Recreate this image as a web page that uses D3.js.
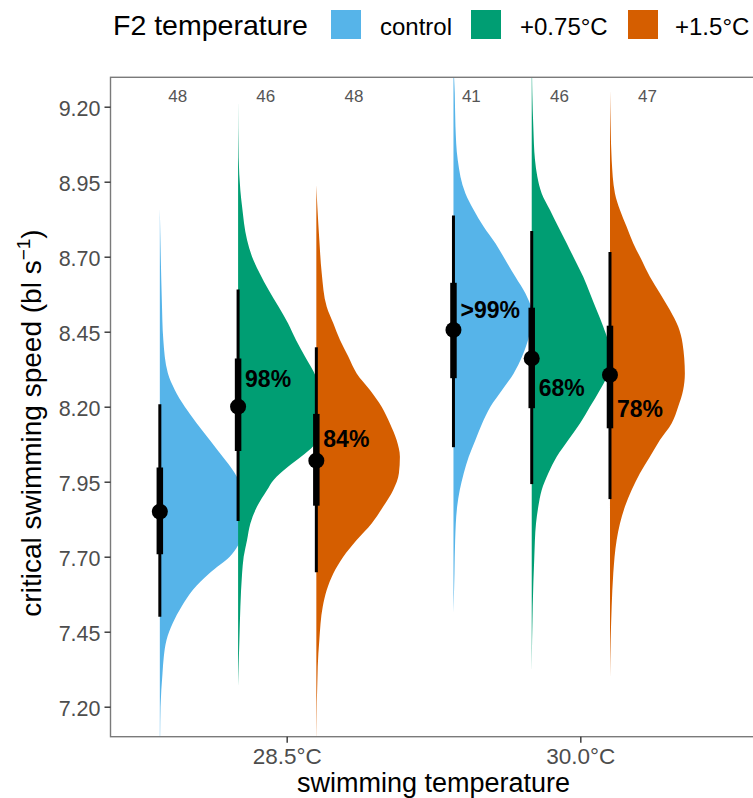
<!DOCTYPE html>
<html>
<head>
<meta charset="utf-8">
<script src="https://cdn.jsdelivr.net/npm/d3@7"></script>
<style>
  html, body { margin: 0; padding: 0; background: #fff; }
  svg { display: block; font-family: "Liberation Sans", Arial, Helvetica, sans-serif; }
</style>
</head>
<body>
<svg id="chart" width="753" height="798"></svg>
<script>
// ---- data ----
const categories = ["28.5°C", "30.0°C"];
const groups = ["control", "+0.75°C", "+1.5°C"];
const groupColors = ["#56B4E9", "#009E73", "#D55E00"];
const yTicks = [7.20, 7.45, 7.70, 7.95, 8.20, 8.45, 8.70, 8.95, 9.20];

// one entry per slab, ordered category-major: 28.5 (control, +0.75, +1.5), 30.0 (...)
const slabCategory = ["28.5°C", "28.5°C", "28.5°C", "30.0°C", "30.0°C", "30.0°C"];
const slabGroup = ["control", "+0.75°C", "+1.5°C", "control", "+0.75°C", "+1.5°C"];
const sampleN = [48, 46, 48, 41, 46, 47];
const medians = [7.85, 8.20, 8.02, 8.456, 8.361, 8.306];
const q66Low = [7.708, 8.052, 7.870, 8.295, 8.195, 8.128];
const q66High = [7.997, 8.361, 8.176, 8.613, 8.530, 8.470];
const q95Low = [7.500, 7.819, 7.648, 8.065, 7.942, 7.892];
const q95High = [8.208, 8.591, 8.398, 8.837, 8.786, 8.716];
const probLabels = ["", "98%", "84%", ">99%", "68%", "78%"];

// posterior densities: [speed, relative density]
const densControl285 = [[7.10,0.003],[7.20,0.007],[7.312,0.027],[7.367,0.04],[7.422,0.067],[7.479,0.13],[7.533,0.217],[7.589,0.33],[7.646,0.50],[7.70,0.70],[7.772,0.83],[7.849,0.87],[7.922,0.83],[7.979,0.75],[8.033,0.63],[8.089,0.50],[8.146,0.367],[8.20,0.25],[8.256,0.15],[8.312,0.08],[8.422,0.035],[8.556,0.02],[8.689,0.01],[8.862,0]];
const densWarm1_285 = [[7.267,0],[7.422,0.013],[7.533,0.023],[7.644,0.04],[7.70,0.056],[7.756,0.09],[7.811,0.123],[7.867,0.19],[7.922,0.29],[7.956,0.356],[7.978,0.423],[8.00,0.50],[8.033,0.63],[8.067,0.75],[8.10,0.80],[8.133,0.83],[8.20,0.85],[8.30,0.78],[8.367,0.67],[8.422,0.58],[8.478,0.50],[8.533,0.406],[8.589,0.306],[8.645,0.216],[8.70,0.14],[8.756,0.09],[8.867,0.04],[8.92,0.023],[9.03,0.006],[9.228,0]];
const densWarm2_285 = [[7.07,0],[7.333,0.014],[7.422,0.03],[7.533,0.064],[7.589,0.104],[7.644,0.17],[7.70,0.27],[7.756,0.404],[7.811,0.554],[7.867,0.67],[7.922,0.77],[7.978,0.827],[8.033,0.837],[8.089,0.804],[8.144,0.737],[8.20,0.654],[8.256,0.537],[8.311,0.404],[8.367,0.32],[8.422,0.237],[8.478,0.17],[8.533,0.104],[8.645,0.054],[8.756,0.03],[8.867,0.01],[8.939,0]];
const densControl300 = [[7.511,0],[7.644,0.01],[7.756,0.017],[7.867,0.037],[7.922,0.063],[7.978,0.103],[8.033,0.153],[8.089,0.22],[8.144,0.287],[8.20,0.37],[8.256,0.487],[8.311,0.603],[8.367,0.687],[8.439,0.76],[8.506,0.79],[8.578,0.72],[8.633,0.62],[8.689,0.52],[8.745,0.42],[8.80,0.303],[8.856,0.203],[8.911,0.12],[9.022,0.043],[9.133,0.02],[9.245,0.013],[9.32,0.003]];
const densWarm1_300 = [[7.311,0],[7.533,0.01],[7.70,0.026],[7.811,0.043],[7.867,0.066],[7.922,0.10],[7.978,0.166],[8.033,0.25],[8.089,0.366],[8.144,0.483],[8.20,0.583],[8.256,0.683],[8.30,0.75],[8.389,0.78],[8.467,0.716],[8.522,0.65],[8.578,0.583],[8.633,0.516],[8.689,0.433],[8.745,0.35],[8.80,0.266],[8.856,0.183],[8.911,0.10],[8.967,0.056],[9.022,0.033],[9.133,0.016],[9.245,0.006],[9.32,0.003]];
const densWarm2_300 = [[7.289,0],[7.422,0.007],[7.533,0.017],[7.644,0.033],[7.756,0.067],[7.811,0.10],[7.867,0.15],[7.922,0.217],[7.978,0.30],[8.033,0.40],[8.089,0.50],[8.144,0.617],[8.20,0.683],[8.256,0.733],[8.311,0.75],[8.411,0.727],[8.467,0.683],[8.522,0.60],[8.578,0.50],[8.633,0.40],[8.689,0.317],[8.745,0.233],[8.80,0.167],[8.856,0.10],[8.911,0.05],[9.022,0.017],[9.133,0.007],[9.262,0]];
const densities = [densControl285, densWarm1_285, densWarm2_285, densControl300, densWarm1_300, densWarm2_300];

// ---- layout ----
const svg = d3.select("#chart");
const panel = { left: 110.5, right: 756.5, top: 77.3, bottom: 736.7 };

const x = d3.scalePoint().domain(categories)
  .range([panel.left, panel.right]).padding(0.6);
const y = d3.scaleLinear().domain([7.10, 9.298])
  .range([panel.bottom, panel.top]);

// slab baselines within each category (fractions of category step)
const dodge = d3.scaleBand().domain(groups).range([-0.432, 0.3675]);
const countDodge = d3.scaleBand().domain(groups).range([-0.521, 0.379]);
const widthScale = d3.scaleLinear().domain([0, 1]).range([0, x.step() * 0.34]);
const color = d3.scaleOrdinal().domain(groups).range(groupColors);

const baseX = i => x(slabCategory[i]) + dodge(slabGroup[i]) * x.step();

svg.append("defs").append("clipPath").attr("id", "panelClip")
  .append("rect")
  .attr("x", panel.left).attr("y", panel.top)
  .attr("width", panel.right - panel.left).attr("height", panel.bottom - panel.top);

const plot = svg.append("g").attr("clip-path", "url(#panelClip)");

// slabs
densities.forEach((dens, i) => {
  const bx = baseX(i);
  const area = d3.area()
    .y(d => y(d[0]))
    .x0(bx)
    .x1(d => bx + widthScale(d[1]))
    .curve(d3.curveMonotoneY);
  plot.append("path")
    .datum(dens)
    .attr("d", area)
    .attr("fill", color(slabGroup[i]));
});

// intervals: thin 95%, thick 66%, then median point
const intervals = plot.append("g");
medians.forEach((m, i) => {
  const bx = baseX(i);
  intervals.append("line")
    .attr("x1", bx).attr("x2", bx)
    .attr("y1", y(q95Low[i])).attr("y2", y(q95High[i]))
    .attr("stroke", "#000").attr("stroke-width", 3);
  intervals.append("line")
    .attr("x1", bx).attr("x2", bx)
    .attr("y1", y(q66Low[i])).attr("y2", y(q66High[i]))
    .attr("stroke", "#000").attr("stroke-width", 6.5);
  intervals.append("circle")
    .attr("cx", bx).attr("cy", y(m)).attr("r", 8)
    .attr("fill", "#000");
});

// probability labels placed beside each median
const probDy = [0, -19.7, -13.7, -12, 37.7, 42];
probLabels.forEach((lab, i) => {
  if (!lab) return;
  svg.append("text")
    .attr("x", baseX(i) + 7)
    .attr("y", y(medians[i]) + probDy[i])
    .attr("font-size", 23).attr("font-weight", "bold")
    .attr("fill", "#000")
    .text(lab);
});

// sample sizes along the top of the panel
sampleN.forEach((n, i) => {
  svg.append("text")
    .attr("x", x(slabCategory[i]) + (countDodge(slabGroup[i]) + countDodge.bandwidth() / 2) * x.step())
    .attr("y", 101.7)
    .attr("text-anchor", "middle")
    .attr("font-size", 17)
    .attr("fill", "#555555")
    .text(n);
});

// panel border
svg.append("rect")
  .attr("x", panel.left).attr("y", panel.top)
  .attr("width", panel.right - panel.left).attr("height", panel.bottom - panel.top)
  .attr("fill", "none").attr("stroke", "#7a7a7a").attr("stroke-width", 1.4);

// y axis
const yAxis = svg.append("g")
  .attr("transform", `translate(${panel.left},0)`)
  .call(d3.axisLeft(y).tickValues(yTicks).tickFormat(d3.format(".2f")).tickSize(6).tickPadding(4));
yAxis.select(".domain").remove();
yAxis.selectAll(".tick line").attr("stroke", "#333").attr("stroke-width", 1.4);
yAxis.selectAll(".tick text")
  .attr("font-size", 21.5).attr("fill", "#4d4d4d")
  .attr("font-family", "Liberation Sans, Arial, sans-serif")
  .attr("dy", "0.42em");

// x axis
const xAxis = svg.append("g")
  .attr("transform", `translate(0,${panel.bottom})`)
  .call(d3.axisBottom(x).tickSize(6).tickPadding(5));
xAxis.select(".domain").remove();
xAxis.selectAll(".tick line").attr("stroke", "#333").attr("stroke-width", 1.4);
xAxis.selectAll(".tick text")
  .attr("font-size", 22.5).attr("fill", "#4d4d4d")
  .attr("font-family", "Liberation Sans, Arial, sans-serif");

// axis titles
svg.append("text")
  .attr("x", (panel.left + panel.right) / 2).attr("y", 791.5)
  .attr("text-anchor", "middle")
  .attr("font-size", 27).attr("fill", "#000")
  .text("swimming temperature");

const yTitle = svg.append("text")
  .attr("transform", `translate(41,${(panel.top + panel.bottom) / 2 + 16}) rotate(-90)`)
  .attr("text-anchor", "middle")
  .attr("font-size", 28).attr("fill", "#000");
yTitle.append("tspan").text("critical swimming speed (bl s");
yTitle.append("tspan").attr("font-size", 19).attr("dy", -11).text("−1");
yTitle.append("tspan").attr("dy", 11).text(")");

// legend
const legend = svg.append("g");
legend.append("text")
  .attr("x", 113).attr("y", 35)
  .attr("font-size", 28.5).attr("fill", "#000")
  .text("F2 temperature");
const keyX = [331, 471, 628];
const labelX = [380, 520, 675];
groups.forEach((g, i) => {
  legend.append("rect")
    .attr("x", keyX[i]).attr("y", 10).attr("width", 30).attr("height", 29)
    .attr("fill", color(g));
  legend.append("text")
    .attr("x", labelX[i]).attr("y", 35)
    .attr("font-size", 24).attr("fill", "#000")
    .text(g);
});
</script>
</body>
</html>
